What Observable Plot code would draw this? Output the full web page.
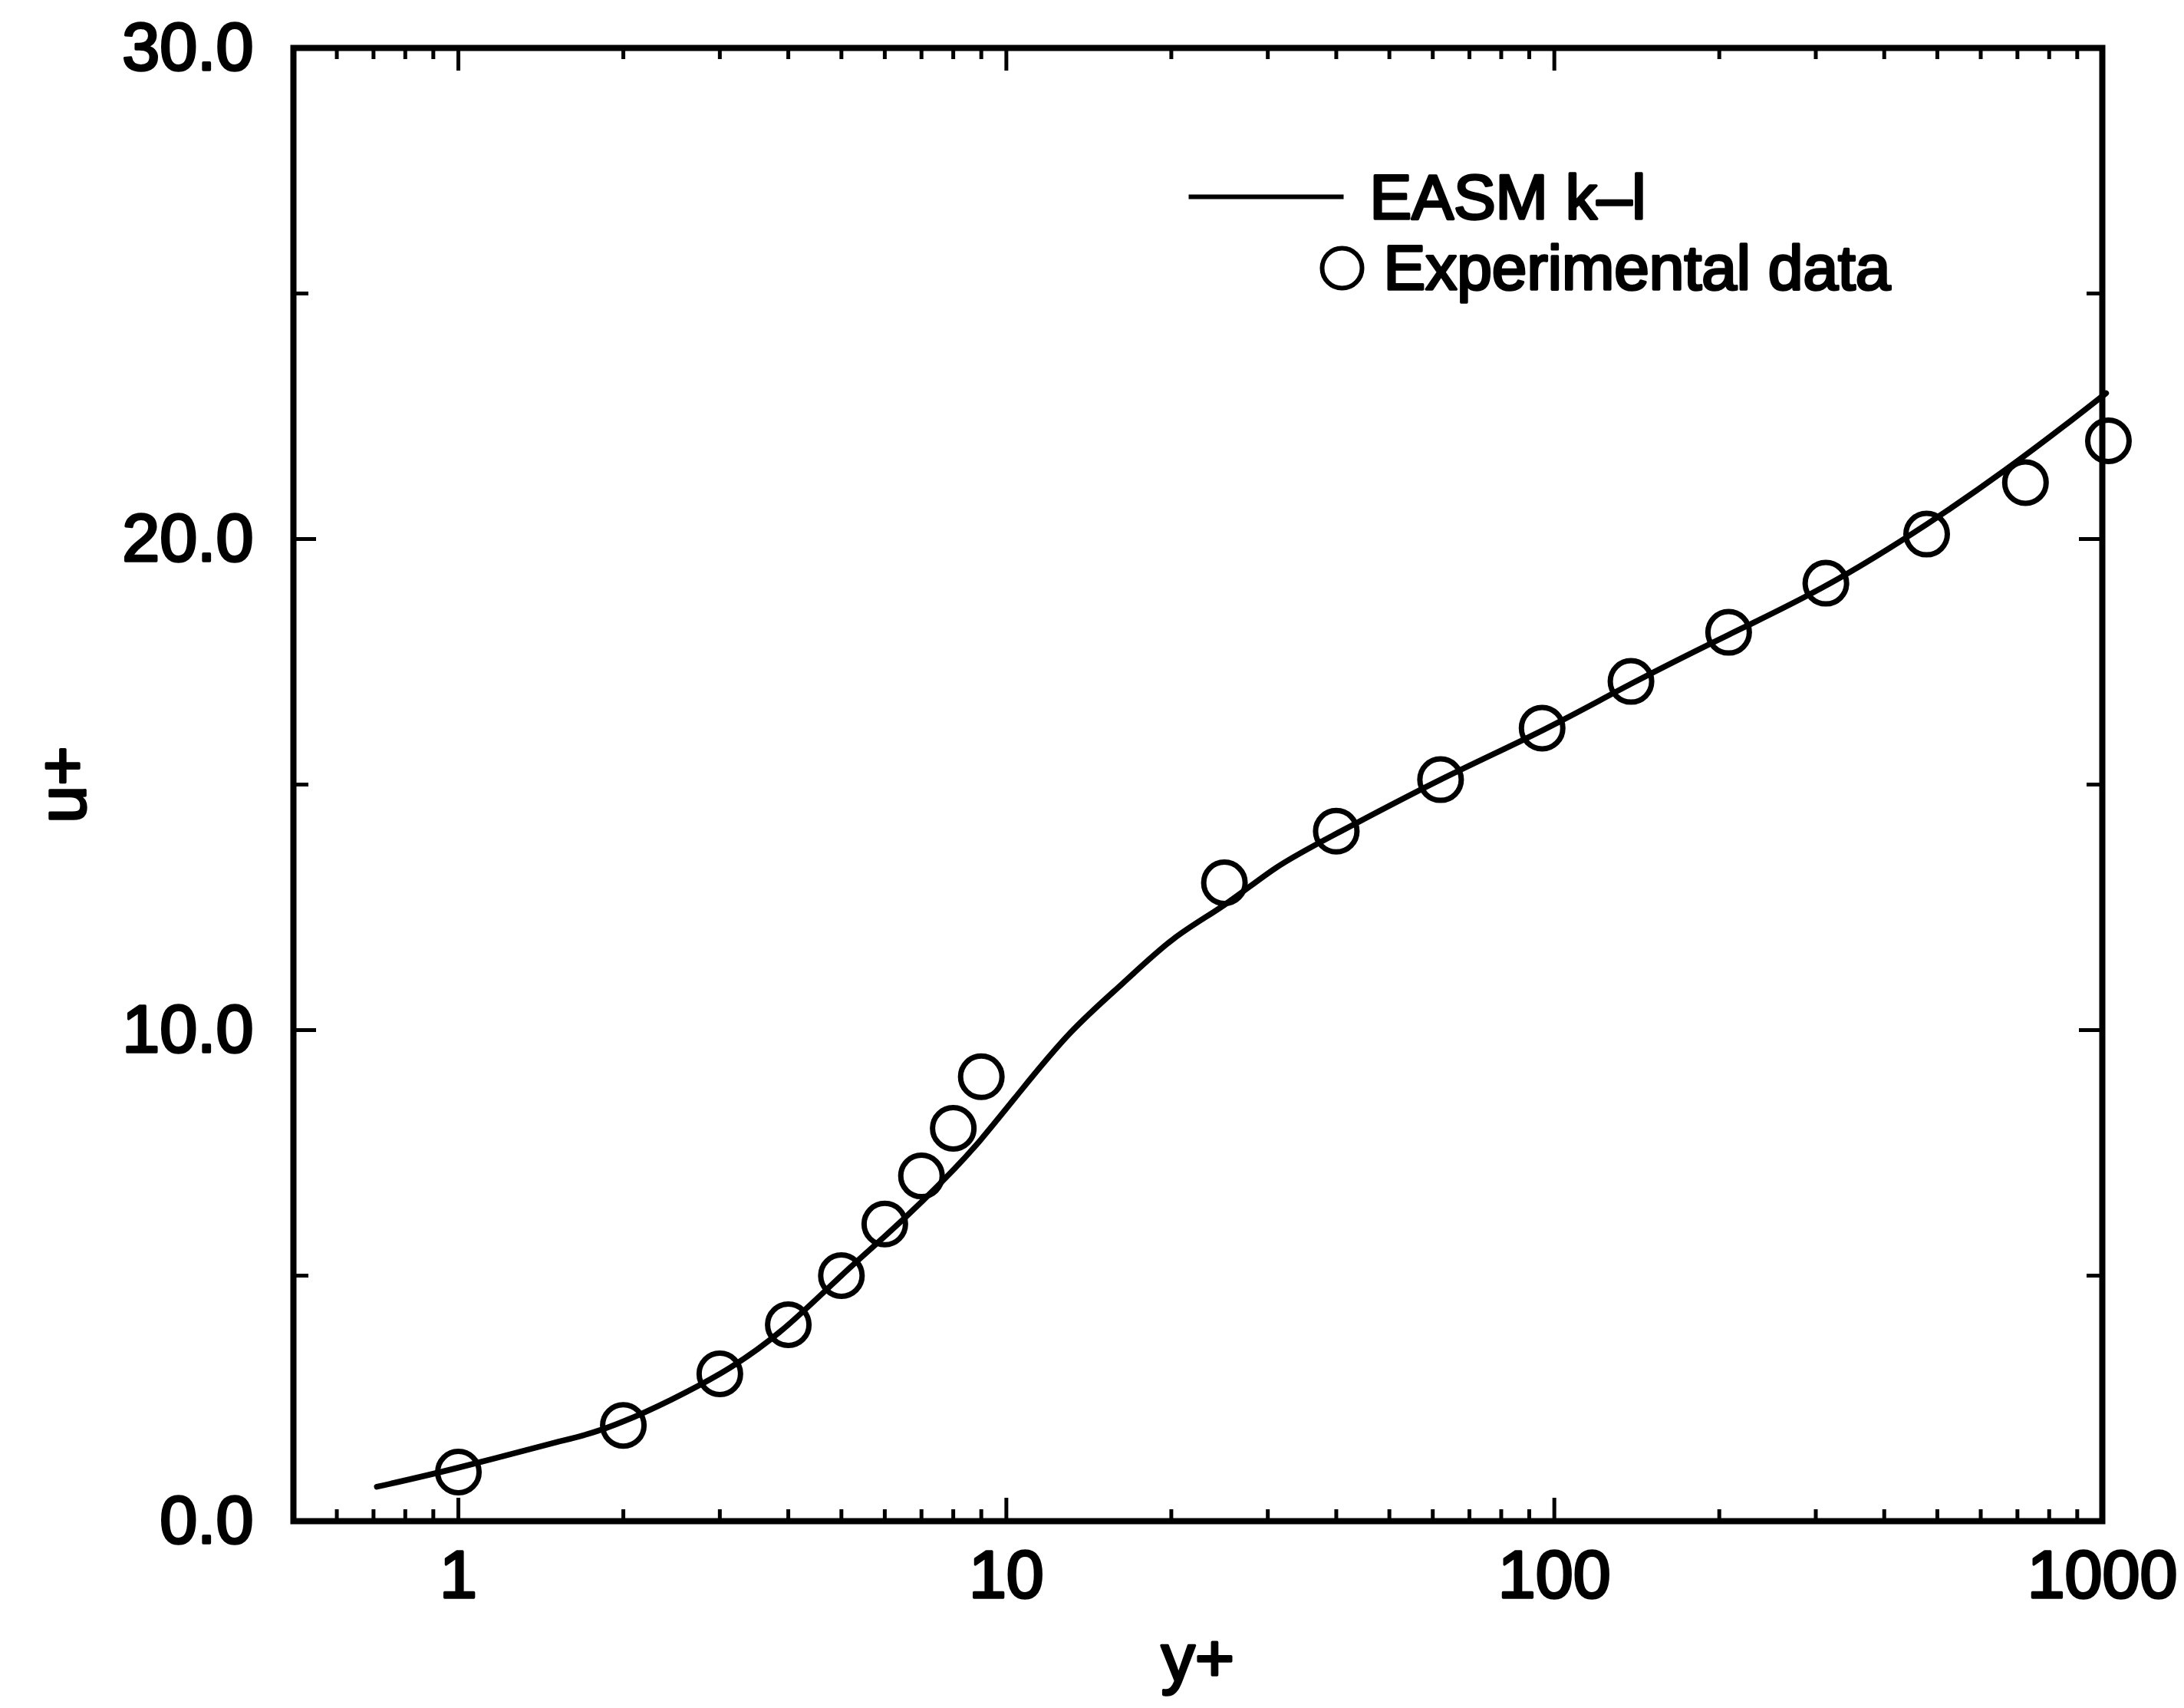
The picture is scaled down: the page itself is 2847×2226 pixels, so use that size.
<!DOCTYPE html>
<html><head><meta charset="utf-8">
<script src="https://cdn.jsdelivr.net/npm/d3@7"></script>
<script src="https://cdn.jsdelivr.net/npm/@observablehq/plot@0.6"></script>
<style>html,body{margin:0;padding:0;background:#fff;}</style>
</head><body><div id="chart"></div>
<script>
// Experimental data (circles)
const expYPlus = [1, 2, 3, 4, 5, 6, 7, 8, 9, 25, 40, 62, 95, 138, 208, 313, 478, 724, 1026];
const expUPlus = [1.0, 1.95, 3.0, 4.0, 5.0, 6.05, 7.03, 8.0, 9.05, 13.0, 14.05, 15.1, 16.15, 17.1, 18.1, 19.1, 20.1, 21.15, 22.0];
// EASM k-l (solid line)
const easmYPlus = [0.71, 1, 1.5, 2, 3, 4, 5, 6, 7, 8, 9, 10.6, 13.1, 16.3, 20.2, 25, 31, 40, 62, 95, 138, 208, 313, 478, 664, 851, 1016];
const easmUPlus = [0.70, 1.09, 1.6, 2.03, 3.0, 4.0, 5.0, 5.8, 6.5, 7.15, 7.78, 8.75, 9.95, 10.95, 11.86, 12.55, 13.3, 14.0, 15.1, 16.1, 17.05, 18.05, 19.05, 20.3, 21.4, 22.3, 22.97];
// Ticks
const xTicksMajor = [1, 10, 100, 1000];
const xTickLabels = ["1", "10", "100", "1000"];
const xTicksMinor = [0.6, 0.7, 0.8, 0.9, 2, 3, 4, 5, 6, 7, 8, 9, 20, 30, 40, 50, 60, 70, 80, 90, 200, 300, 400, 500, 600, 700, 800, 900];
const yTicksMajor = [0, 10, 20, 30];
const yTickLabels = ["0.0", "10.0", "20.0", "30.0"];
const yTicksMinor = [5, 15, 25];
const seriesNames = ["EASM k–l", "Experimental data"];
const xLabel = "y+";
const yLabel = "u+";

const W = 2847, H = 2226;
const mL = 382, mR = 107, mT = 62, mB = 244;
const innerW = W - mL - mR, innerH = H - mT - mB;
const font = "'Liberation Sans', Arial, Helvetica, sans-serif";

const exp = expYPlus.map((x, i) => ({x, y: expUPlus[i]}));
const easm = easmYPlus.map((x, i) => ({x, y: easmUPlus[i]}));

const lineSymbol = {draw(ctx) { ctx.moveTo(-101, 0); ctx.lineTo(101, 0); }};
const txt = {fill: "black", stroke: "black", strokeWidth: 3.4, fontFamily: font};

const chart = Plot.plot({
  width: W, height: H,
  marginLeft: mL, marginRight: mR, marginTop: mT, marginBottom: mB,
  style: {fontFamily: font, fontSize: "88px", background: "white", color: "black", overflow: "visible"},
  x: {type: "log", domain: [0.5, 1000], axis: null},
  y: {domain: [0, 30], axis: null},
  marks: [
    // inward ticks, bottom & top
    Plot.ruleX(xTicksMajor, {x: d => d, insetTop: innerH - 30, stroke: "black", strokeWidth: 5}),
    Plot.ruleX(xTicksMinor, {x: d => d, insetTop: innerH - 15, stroke: "black", strokeWidth: 5}),
    Plot.ruleX(xTicksMajor, {x: d => d, insetBottom: innerH - 30, stroke: "black", strokeWidth: 5}),
    Plot.ruleX(xTicksMinor, {x: d => d, insetBottom: innerH - 15, stroke: "black", strokeWidth: 5}),
    // inward ticks, left & right
    Plot.ruleY(yTicksMajor, {y: d => d, insetRight: innerW - 30, stroke: "black", strokeWidth: 5}),
    Plot.ruleY(yTicksMinor, {y: d => d, insetRight: innerW - 20, stroke: "black", strokeWidth: 5}),
    Plot.ruleY(yTicksMajor, {y: d => d, insetLeft: innerW - 30, stroke: "black", strokeWidth: 5}),
    Plot.ruleY(yTicksMinor, {y: d => d, insetLeft: innerW - 20, stroke: "black", strokeWidth: 5}),
    Plot.frame({stroke: "black", strokeWidth: 8}),
    // tick labels
    Plot.text(xTicksMajor, {x: d => d, frameAnchor: "bottom", dy: 71, lineAnchor: "middle", textAnchor: "middle",
      text: (d, i) => xTickLabels[i], fontSize: 88, ...txt}),
    Plot.text(yTicksMajor, {y: d => d, frameAnchor: "left", dx: -52, textAnchor: "end", lineAnchor: "middle",
      text: (d, i) => yTickLabels[i], fontSize: 88, ...txt}),
    // axis labels
    Plot.text([xLabel], {frameAnchor: "bottom", dy: 180, lineAnchor: "middle", textAnchor: "middle", fontSize: 88, ...txt}),
    Plot.text([yLabel], {frameAnchor: "left", dx: -300, rotate: -90, lineAnchor: "middle", textAnchor: "middle", fontSize: 88, ...txt}),
    // data
    Plot.line(easm, {x: "x", y: "y", stroke: "black", strokeWidth: 7.5, curve: "natural"}),
    Plot.dot(exp, {x: "x", y: "y", r: 27, stroke: "black", strokeWidth: 7, fill: "none"}),
    // legend
    Plot.dot([seriesNames[0]], {frameAnchor: "top-left", dx: 1268, dy: 194, symbol: lineSymbol, stroke: "black", strokeWidth: 6}),
    Plot.dot([seriesNames[1]], {frameAnchor: "top-left", dx: 1367, dy: 287, r: 26, stroke: "black", strokeWidth: 6, fill: "none"}),
    Plot.text([seriesNames[0]], {frameAnchor: "top-left", dx: 1403, dy: 196, textAnchor: "start", lineAnchor: "middle", fontSize: 82, ...txt}),
    Plot.text([seriesNames[1]], {frameAnchor: "top-left", dx: 1421, dy: 288, textAnchor: "start", lineAnchor: "middle", fontSize: 82, ...txt})
  ]
});
document.getElementById("chart").appendChild(chart);
</script>
</body></html>
